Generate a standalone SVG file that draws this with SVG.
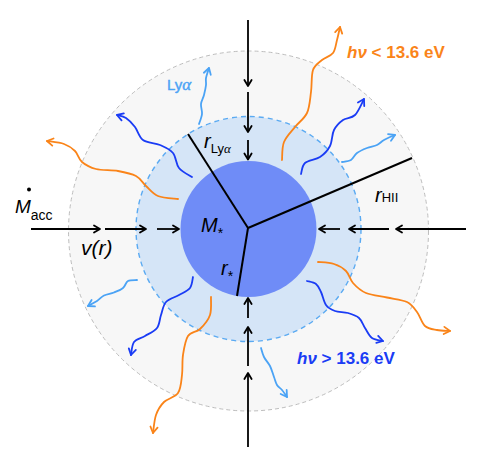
<svg xmlns="http://www.w3.org/2000/svg" width="485" height="467" viewBox="0 0 485 467">
<style>
.lbl{font-family:"Liberation Sans","Arial",sans-serif;fill:#000}
.it{font-style:italic}
.ar{fill:none;stroke:#000;stroke-width:1.8}
.rad{fill:none;stroke:#000;stroke-width:2}
.w{fill:none;stroke-width:1.8;stroke-linecap:round}
.or{stroke:#FA8419}
.bl{stroke:#1A3CF5}
.lb{stroke:#4BA3F5}
</style>
<defs>
<marker id="mk" markerUnits="userSpaceOnUse" orient="auto" refX="0" refY="0" markerWidth="10" markerHeight="10" overflow="visible"><path d="M-6,-3.6 L0,0 L-6,3.6" fill="none" stroke="#000" stroke-width="1.8" stroke-linejoin="round" stroke-linecap="round"/></marker>
<marker id="mo" markerUnits="userSpaceOnUse" orient="auto" refX="0" refY="0" markerWidth="10" markerHeight="10" overflow="visible"><path d="M-6,-3.6 L0,0 L-6,3.6" fill="none" stroke="#FA8419" stroke-width="1.8" stroke-linejoin="round" stroke-linecap="round"/></marker>
<marker id="mb" markerUnits="userSpaceOnUse" orient="auto" refX="0" refY="0" markerWidth="10" markerHeight="10" overflow="visible"><path d="M-6,-3.6 L0,0 L-6,3.6" fill="none" stroke="#1A3CF5" stroke-width="1.8" stroke-linejoin="round" stroke-linecap="round"/></marker>
<marker id="ml" markerUnits="userSpaceOnUse" orient="auto" refX="0" refY="0" markerWidth="10" markerHeight="10" overflow="visible"><path d="M-6,-3.6 L0,0 L-6,3.6" fill="none" stroke="#4BA3F5" stroke-width="1.8" stroke-linejoin="round" stroke-linecap="round"/></marker>
</defs>

<g id="hii-region"><circle cx="248.5" cy="231" r="180" fill="#F7F7F7" stroke="#BDBDBD" stroke-width="1" stroke-dasharray="4 3"/></g>
<g id="lya-region"><circle cx="248.5" cy="229" r="112.5" fill="#D5E5F7" stroke="#5AAAF2" stroke-width="1.4" stroke-dasharray="5 4"/></g>
<g id="star"><circle cx="248.5" cy="229" r="68" fill="#6F8CF7"/></g>

<g id="connectors">
<!-- photon paths -->
<path class="w bl" marker-end="url(#mb)" d="M192,177 C189.8,175.5 182.2,172 179,168 C175.8,164 176.2,156.8 173,153 C169.8,149.2 165,147.2 160,145 C155,142.8 147.2,143 143,140 C138.8,137 137.8,130.7 135,127 C132.2,123.3 129,120 126,118 C123,116 118.5,115.5 117,115"/>
<path class="w or" marker-end="url(#mo)" d="M178,199 C174.7,198.5 163.3,198.2 158,196 C152.7,193.8 149.7,189.3 146,186 C142.3,182.7 140.7,178.5 136,176 C131.3,173.5 124.7,172.2 118,171 C111.3,169.8 102,170.5 96,169 C90,167.5 85.5,165 82,162 C78.5,159 78,154 75,151 C72,148 68.7,145.7 64,144 C59.3,142.3 49.8,141.5 47,141"/>
<path class="w or" marker-end="url(#mo)" d="M282,160 C282.3,157 281.8,147.5 284,142 C286.2,136.5 291.2,131.8 295,127 C298.8,122.2 304.3,118.8 307,113 C309.7,107.2 310,99.2 311,92 C312,84.8 311.2,75.3 313,70 C314.8,64.7 318.7,62.8 322,60 C325.3,57.2 330.5,56.3 333,53 C335.5,49.7 335.8,44.3 337,40 C338.2,35.7 339.5,29.2 340,27"/>
<path class="w bl" marker-end="url(#mb)" d="M301,174 C301.7,172.2 301.8,165.8 305,163 C308.2,160.2 315.8,159.8 320,157 C324.2,154.2 327.7,150.5 330,146 C332.3,141.5 331.8,134.3 334,130 C336.2,125.7 339.5,122.5 343,120 C346.5,117.5 351.5,118.5 355,115 C358.5,111.5 362.5,101.7 364,99"/>
<path class="w lb" marker-end="url(#ml)" d="M342,162 C343.5,161.7 348.5,161.5 351,160 C353.5,158.5 354.3,155 357,153 C359.7,151 363.7,149.3 367,148 C370.3,146.7 374.2,146.3 377,145 C379.8,143.7 381,141.7 384,140 C387,138.3 393.2,135.8 395,135"/>
<path class="w lb" marker-end="url(#ml)" d="M199,124 C199.5,122.3 201.7,117.3 202,114 C202.3,110.7 200.7,107.2 201,104 C201.3,100.8 203.2,98.2 204,95 C204.8,91.8 205.7,87.8 206,85 C206.3,82.2 205.5,80.8 206,78 C206.5,75.2 208.5,69.7 209,68"/>
<path class="w lb" marker-end="url(#ml)" d="M137,280 C135.5,280.2 130.3,279.7 128,281 C125.7,282.3 125.3,286.1 123,288 C120.7,289.9 117.2,291.25 114,292.5 C110.8,293.75 106.8,294.1 104,295.5 C101.2,296.9 99.7,299.25 97,301 C94.3,302.75 89.5,305.2 88,306"/>
<path class="w bl" marker-end="url(#mb)" d="M193,277 C192.5,278.8 192.3,285 190,288 C187.7,291 183,292.7 179,295 C175,297.3 169,298.7 166,302 C163,305.3 162.5,310.7 161,315 C159.5,319.3 159.7,324.5 157,328 C154.3,331.5 148.8,333.7 145,336 C141.2,338.3 136.3,338.8 134,342 C131.7,345.2 131.5,352.8 131,355"/>
<path class="w or" marker-end="url(#mo)" d="M211,297 C210.8,300 211.8,309.7 210,315 C208.2,320.3 203.7,325.5 200,329 C196.3,332.5 190.8,331.7 188,336 C185.2,340.3 184,348.5 183,355 C182,361.5 182.8,368.7 182,375 C181.2,381.3 181,388.5 178,393 C175,397.5 167.7,398.3 164,402 C160.3,405.7 157.8,409.8 156,415 C154.2,420.2 153.5,430 153,433"/>
<path class="w or" marker-end="url(#mo)" d="M318,262 C320.7,262.3 329.3,262.5 334,264 C338.7,265.5 342.8,267.8 346,271 C349.2,274.2 349.7,279.3 353,283 C356.3,286.7 360.3,290.6 366,293 C371.7,295.4 380.2,296 387,297.5 C393.8,299 402,299.6 407,302 C412,304.4 414,308 417,312 C420,316 421.7,323 425,326 C428.3,329 432.8,329.2 437,330 C441.2,330.8 447.8,330.8 450,331"/>
<path class="w bl" marker-end="url(#mb)" d="M307,281 C308.5,281.5 313.7,282.2 316,284 C318.3,285.8 319.3,288.5 321,292 C322.7,295.5 323.7,301.8 326,305 C328.3,308.2 331.3,309.7 335,311 C338.7,312.3 344,311.8 348,313 C352,314.2 356.2,315.5 359,318 C361.8,320.5 362.8,324.7 365,328 C367.2,331.3 369,335.8 372,338 C375,340.2 381.2,340.5 383,341"/>
<path class="w lb" marker-end="url(#ml)" d="M261,348 C261.5,349.5 262.5,354 264,357 C265.5,360 268.3,362.7 270,366 C271.7,369.3 272.8,373.8 274,377 C275.2,380.2 275.7,382.8 277,385 C278.3,387.2 280.3,388 282,390 C283.7,392 286.2,395.8 287,397"/>

<!-- accretion flow arrows -->
<path class="ar" marker-end="url(#mk)" d="M248,20 V86"/>
<path class="ar" marker-end="url(#mk)" d="M248,92 V132"/>
<path class="ar" marker-end="url(#mk)" d="M248,140 V159.5"/>
<path class="ar" marker-end="url(#mk)" d="M248,447 V373"/>
<path class="ar" marker-end="url(#mk)" d="M248,366 V327"/>
<path class="ar" marker-end="url(#mk)" d="M248,318 V298"/>
<path class="ar" marker-end="url(#mk)" d="M31,229 H100"/>
<path class="ar" marker-end="url(#mk)" d="M105,229 H146"/>
<path class="ar" marker-end="url(#mk)" d="M157,229 H179"/>
<path class="ar" marker-end="url(#mk)" d="M466,229 H396"/>
<path class="ar" marker-end="url(#mk)" d="M389,229 H349"/>
<path class="ar" marker-end="url(#mk)" d="M340,229 H319"/>

<!-- radii -->
<path class="rad" d="M248,228 L188,134"/>
<path class="rad" d="M248,228 L412,158"/>
<path class="rad" d="M248,228 L237,296"/>
</g>

<g id="label-macc">
<circle cx="29" cy="189.5" r="2" fill="#000"/>
<text class="lbl" x="15" y="213" font-size="19"><tspan class="it">M</tspan><tspan font-size="14" dy="7">acc</tspan></text>
</g>
<g id="label-vr"><text class="lbl it" x="81" y="255" font-size="21">v(r)</text></g>
<g id="label-mstar"><text class="lbl" x="201" y="232" font-size="20"><tspan class="it">M</tspan><tspan font-size="14" dy="6">*</tspan></text></g>
<g id="label-rstar"><text class="lbl" x="221" y="275" font-size="20"><tspan class="it">r</tspan><tspan font-size="14" dy="6">*</tspan></text></g>
<g id="label-rlya"><text class="lbl" x="204" y="148" font-size="20"><tspan class="it">r</tspan><tspan font-size="13" dy="5">Ly</tspan><tspan font-size="13" font-family="Liberation Serif" class="it">α</tspan></text></g>
<g id="label-rhii"><text class="lbl" x="375" y="202" font-size="20"><tspan class="it">r</tspan><tspan font-size="13" dy="0">HII</tspan></text></g>
<g id="label-lya"><text class="lbl" x="167" y="90" font-size="15" style="fill:#4BA3F5;stroke:#4BA3F5;stroke-width:0.4">Ly<tspan font-family="Liberation Serif" class="it" font-size="17">α</tspan></text></g>
<g id="label-low"><text class="lbl" x="347" y="58" font-size="17" font-weight="bold" style="fill:#FA8419"><tspan class="it">hν</tspan> &lt; 13.6 eV</text></g>
<g id="label-high"><text class="lbl" x="297" y="364" font-size="17" font-weight="bold" style="fill:#1A3CF5"><tspan class="it">hν</tspan> &gt; 13.6 eV</text></g>
</svg>
